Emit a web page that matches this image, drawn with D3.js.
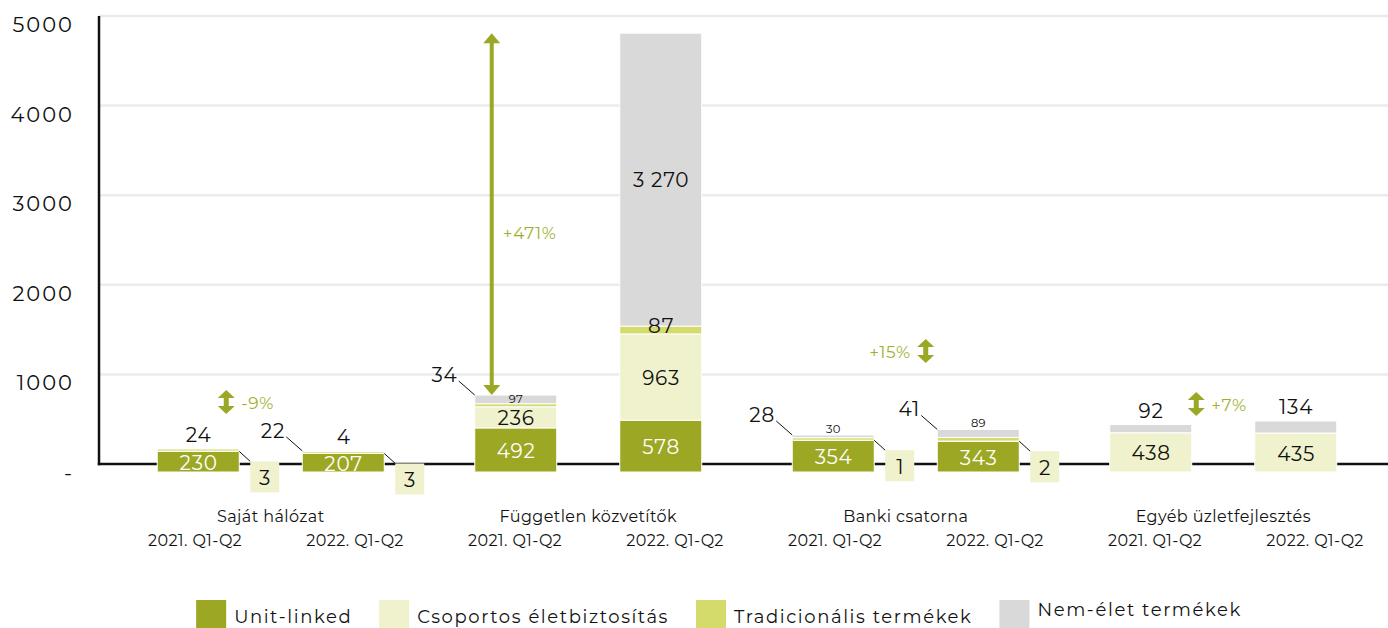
<!DOCTYPE html>
<html>
<head>
<meta charset="utf-8">
<script src="https://cdn.jsdelivr.net/npm/d3@7"></script>
<style>
  html, body { margin: 0; padding: 0; background: #ffffff; }
  svg { display: block; }
  text { font-family: Montserrat, Inter, "Noto Sans", sans-serif; }
</style>
</head>
<body>
<svg id="chart" width="1388" height="628"></svg>
<script>
// ---------------- DATA ----------------
const groups = ["Saját hálózat", "Független közvetítők", "Banki csatorna", "Egyéb üzletfejlesztés"];
const periods = ["2021. Q1-Q2", "2022. Q1-Q2"];
const seriesNames = ["Unit-linked", "Csoportos életbiztosítás", "Tradicionális termékek", "Nem-élet termékek"];
// order of bars: group1-2021, group1-2022, group2-2021, ...
const unitLinked    = [230, 207, 492, 578, 354, 343, 0, 0];
const csoportos     = [3, 3, 236, 963, 1, 2, 438, 435];
const tradicionalis = [24, 22, 34, 87, 28, 41, 0, 0];
const nemElet       = [0, 4, 97, 3270, 30, 89, 92, 134];
const changeLabels  = ["-9%", "+471%", "+15%", "+7%"];
const yTicks        = [0, 1000, 2000, 3000, 4000, 5000];

// ---------------- STYLE / LAYOUT ----------------
const colors = {
  "Unit-linked": "#9ca723",
  "Csoportos életbiztosítás": "#eff2cc",
  "Tradicionális termékek": "#d4db6a",
  "Nem-élet termékek": "#d9d9d9"
};
const accent = "#9aa826";
const accentText = "#a2af2e";
const BASE_DROP = 8; // bars start slightly below the zero line

const svg = d3.select("#chart");
const plotLeft = 99, plotRight = 1388;

const y = d3.scaleLinear().domain([0, 5000]).range([464, 16]);
const xGroup = d3.scaleBand().domain(groups).range([112, 1382]);
const xPeriod = d3.scaleBand().domain(periods).range([0, xGroup.bandwidth()])
  .paddingInner(0.4345).paddingOuter(0.312);
const slotKeys = [];
groups.forEach(g => periods.forEach(p => slotKeys.push(g + "|" + p)));
const xSlot = d3.scaleBand().domain(slotKeys).range([115, 1395]);

const locale = d3.formatLocale({decimal: ",", thousands: "\u00a0", grouping: [3], currency: ["", " Ft"]});
const fmt = v => v >= 1000 ? locale.format(",")(v) : String(v);

// rows
const rows = slotKeys.map((k, i) => ({
  group: groups[Math.floor(i / 2)],
  period: periods[i % 2],
  "Unit-linked": unitLinked[i],
  "Csoportos életbiztosítás": csoportos[i],
  "Tradicionális termékek": tradicionalis[i],
  "Nem-élet termékek": nemElet[i]
}));
const stacked = d3.stack().keys(seriesNames)(rows);

const barX = r => xGroup(r.group) + xPeriod(r.period);
const bw = xPeriod.bandwidth();
const py = v => y(v) + BASE_DROP;

// ---------------- GRID & AXES ----------------
svg.append("g").selectAll("line").data(yTicks.filter(t => t > 0)).join("line")
  .attr("x1", plotLeft).attr("x2", plotRight)
  .attr("y1", d => y(d)).attr("y2", d => y(d))
  .attr("stroke", "#ebebeb").attr("stroke-width", 2.5);

const yAxis = d3.axisLeft(y).tickValues(yTicks).tickSize(0)
  .tickFormat(d => d === 0 ? "-" : String(d));
const ag = svg.append("g").attr("transform", `translate(${plotLeft},0)`).call(yAxis);
ag.select(".domain").remove();
ag.selectAll("text").attr("x", -25).attr("dy", null)
  .attr("transform", "translate(0,8)")
  .attr("dominant-baseline", "central")
  .style("font-size", "21px").style("letter-spacing", "2px").attr("fill", "#111");

svg.append("line").attr("x1", plotLeft).attr("x2", plotLeft)
  .attr("y1", y(5000)).attr("y2", y(0) + 1.2)
  .attr("stroke", "#111").attr("stroke-width", 2.5);
svg.append("line").attr("x1", plotLeft - 1.2).attr("x2", plotRight)
  .attr("y1", y(0)).attr("y2", y(0))
  .attr("stroke", "#111").attr("stroke-width", 2.5);

// ---------------- BARS ----------------
const barsG = svg.append("g");
stacked.forEach(layer => {
  barsG.append("g").selectAll("rect")
    .data(layer.filter(d => d[1] - d[0] > 0)).join("rect")
    .attr("x", d => barX(d.data))
    .attr("width", bw)
    .attr("y", d => py(d[1]))
    .attr("height", d => py(d[0]) - py(d[1]))
    .attr("fill", colors[layer.key])
    .attr("stroke", "#fff").attr("stroke-width", 1);
});

// ---------------- LABELS ----------------
const labG = svg.append("g");
function txt(x, yy, s, size, fill, anchor) {
  const ls = size >= 18 ? 0.8 : 0.3;
  return labG.append("text").attr("x", x + (anchor === "end" ? ls : ls / 2)).attr("y", yy).text(s)
    .attr("text-anchor", anchor || "middle").attr("dominant-baseline", "central")
    .style("font-size", size + "px").style("letter-spacing", ls + "px").attr("fill", fill || "#111");
}
rows.forEach((r, i) => {
  const x0 = barX(r), x1 = x0 + bw, cx = x0 + bw / 2;
  const seg = k => stacked[seriesNames.indexOf(k)][i];
  const total = seriesNames.reduce((s, k) => s + r[k], 0);
  const top = py(total);

  // Unit-linked
  const ul = seg("Unit-linked");
  if (r["Unit-linked"] > 0) txt(cx, (py(ul[0]) + py(ul[1])) / 2 + 1, fmt(r["Unit-linked"]), 20, "#fff");

  // Csoportos
  const cs = seg("Csoportos életbiztosítás"), csv = r["Csoportos életbiztosítás"];
  if (csv >= 50) {
    txt(cx, (py(cs[0]) + py(cs[1])) / 2 + 1, fmt(csv), 20);
  } else if (csv > 0) {
    const ulTop = py(ul[1]);
    labG.append("line").attr("x1", x1).attr("y1", ulTop).attr("x2", x1 + 11).attr("y2", ulTop + 10)
      .attr("stroke", "#111").attr("stroke-width", 1);
    labG.append("rect").attr("x", x1 + 11).attr("y", ulTop + 10).attr("width", 29).attr("height", 31)
      .attr("fill", colors["Csoportos életbiztosítás"]);
    txt(x1 + 25.5, ulTop + 26.5, fmt(csv), 20);
  }

  // Tradicionális
  const tr = seg("Tradicionális termékek"), trv = r["Tradicionális termékek"], nev = r["Nem-élet termékek"];
  if (trv >= 50) {
    txt(cx, (py(tr[0]) + py(tr[1])) / 2 - 4, fmt(trv), 20);
  } else if (trv > 0) {
    if (nev > 0) {
      labG.append("line").attr("x1", x0).attr("y1", top).attr("x2", x0 - 16).attr("y2", top - 14)
        .attr("stroke", "#111").attr("stroke-width", 1);
      txt(x0 - 18, top - 20, fmt(trv), 20, "#111", "end");
    } else {
      txt(cx, top - 14, fmt(trv), 20);
    }
  }

  // Nem-élet
  const ne = seg("Nem-élet termékek");
  if (nev >= 1000) {
    txt(cx, (py(ne[0]) + py(ne[1])) / 2, fmt(nev), 20);
  } else if (nev >= 10 && trv > 0) {
    const h = py(ne[0]) - py(ne[1]);
    if (h >= 8) txt(cx, (py(ne[0]) + py(ne[1])) / 2, fmt(nev), 11.5);
    else txt(cx, py(ne[1]) - 6, fmt(nev), 11.5);
  } else if (nev > 0) {
    txt(cx, top - 14, fmt(nev), 20);
  }
});

// ---------------- CATEGORY AXIS ----------------
const catG = svg.append("g");
groups.forEach(g => {
  catG.append("text").attr("x", xGroup(g) + xGroup.bandwidth() / 2).attr("y", 516)
    .attr("text-anchor", "middle").attr("dominant-baseline", "central")
    .style("font-size", "16px").style("letter-spacing", "0.4px").attr("fill", "#111").text(g);
});
slotKeys.forEach((k, i) => {
  catG.append("text").attr("x", xSlot(k) + xSlot.bandwidth() / 2).attr("y", 540)
    .attr("text-anchor", "middle").attr("dominant-baseline", "central")
    .style("font-size", "16px").style("letter-spacing", "0.4px").attr("fill", "#111").text(periods[i % 2]);
});

// ---------------- CHANGE ANNOTATIONS ----------------
const annG = svg.append("g");
const smallArrow = "M0,-12 L8.5,-4 L2.5,-4 L2.5,4 L8.5,4 L0,12 L-8.5,4 L-2.5,4 L-2.5,-4 L-8.5,-4 Z";
// layout: arrow offset from group centre, arrow position in value units, text side
const annLayout = [
  {dx: -44.5, v: 692, side: "right"},
  {big: true, vText: 2580},
  {dx: 20, v: 1261, side: "left"},
  {dx: -27, v: 670, side: "right"}
];
groups.forEach((g, gi) => {
  const L = annLayout[gi];
  const gc = xGroup(g) + xGroup.bandwidth() / 2;
  if (L.big) {
    const r0 = rows[gi * 2], r1 = rows[gi * 2 + 1];
    const t0 = py(seriesNames.reduce((s, k) => s + r0[k], 0));
    const t1 = py(seriesNames.reduce((s, k) => s + r1[k], 0));
    const ax = barX(r0) + bw / 2 - 24;
    annG.append("line").attr("x1", ax).attr("x2", ax).attr("y1", t0 - 9).attr("y2", t1 + 9)
      .attr("stroke", accent).attr("stroke-width", 4);
    annG.append("path").attr("d", `M${ax},${t1} L${ax + 8.5},${t1 + 10} L${ax - 8.5},${t1 + 10} Z`).attr("fill", accent);
    annG.append("path").attr("d", `M${ax},${t0} L${ax + 8.5},${t0 - 10} L${ax - 8.5},${t0 - 10} Z`).attr("fill", accent);
    annG.append("text").attr("x", ax + 11).attr("y", y(L.vText)).attr("dominant-baseline", "central")
      .style("font-size", "17px").style("letter-spacing", "0.6px").attr("fill", accentText).text(changeLabels[gi]);
  } else {
    const ax = gc + L.dx, ay = y(L.v);
    annG.append("path").attr("d", smallArrow).attr("transform", `translate(${ax},${ay})`).attr("fill", accent);
    annG.append("text")
      .attr("x", L.side === "right" ? ax + 15 : ax - 15)
      .attr("y", ay + 1).attr("dominant-baseline", "central")
      .attr("text-anchor", L.side === "right" ? "start" : "end")
      .style("font-size", "17px").style("letter-spacing", "0.6px").attr("fill", accentText).text(changeLabels[gi]);
  }
});

// ---------------- LEGEND ----------------
const legG = svg.append("g");
let lx = 0;
seriesNames.forEach((s, i) => {
  const it = legG.append("g");
  it.append("rect").attr("x", 0).attr("y", 600).attr("width", 30).attr("height", 30).attr("fill", colors[s]);
  const t = it.append("text").attr("x", 38).attr("y", i === 3 ? 610 : 617)
    .attr("dominant-baseline", "central").style("font-size", "18px").style("letter-spacing", "1.6px")
    .attr("fill", "#111").text(s);
  const w = 38 + t.node().getComputedTextLength();
  it.attr("transform", `translate(${lx},0)`);
  lx += w + 27;
});
const legW = lx - 27;
legG.attr("transform", `translate(${719 - legW / 2},0)`);
</script>
</body>
</html>
